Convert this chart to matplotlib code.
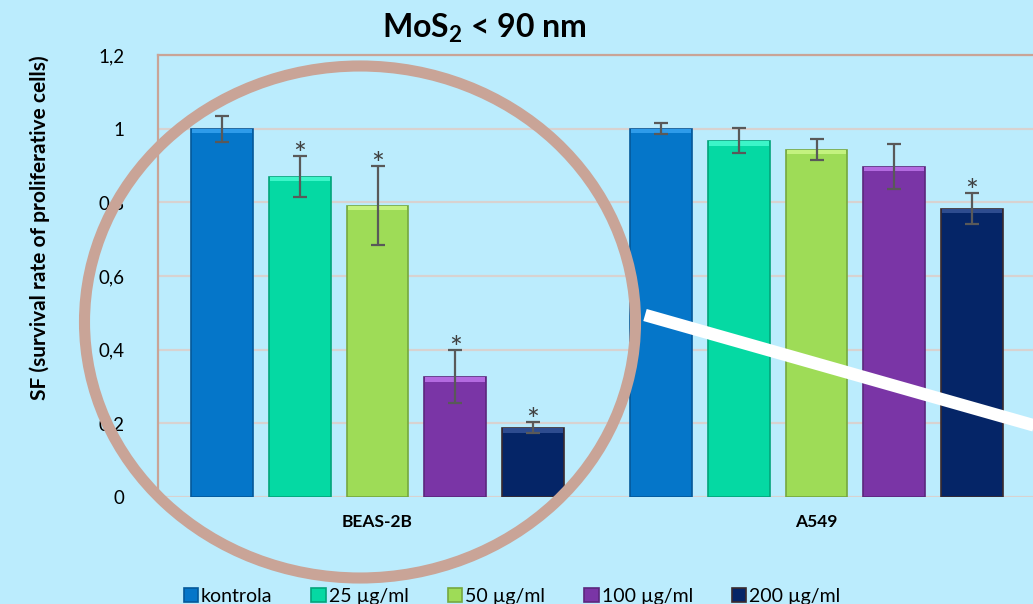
import matplotlib
matplotlib.use("Agg")
import matplotlib.pyplot as plt
from matplotlib.patches import Ellipse, Patch
from matplotlib.lines import Line2D
import numpy as np

plt.rcParams["font.family"] = ["Lato", "DejaVu Sans"]
plt.rcParams["mathtext.fontset"] = "custom"
plt.rcParams["mathtext.rm"] = "Lato"
plt.rcParams["mathtext.bf"] = "Lato:bold"

# ── Data ──────────────────────────────────────────────────────────────────────
cell_lines = ["BEAS-2B", "A549"]
doses = ["kontrola", "25 µg/ml", "50 µg/ml", "100 µg/ml", "200 µg/ml"]

beas_sf  = [1.000, 0.870, 0.791, 0.326, 0.188]
beas_err = [0.035, 0.055, 0.107, 0.072, 0.015]
beas_sig = [False, True, True, True, True]

a549_sf  = [1.000, 0.967, 0.943, 0.897, 0.783]
a549_err = [0.015, 0.034, 0.029, 0.062, 0.041]
a549_sig = [False, False, False, False, True]

yticks      = [0, 0.2, 0.4, 0.6, 0.8, 1.0, 1.2]
ytick_names = ["0", "0,2", "0,4", "0,6", "0,8", "1", "1,2"]

# ── Style ─────────────────────────────────────────────────────────────────────
BG     = "#BBECFD"
GRID   = "#D8D2D0"
FRAME  = "#C9A497"
faces  = ["#0576C9", "#05D9A3", "#9EDC57", "#7A35A6", "#052567"]
edges  = ["#04599A", "#03A57B", "#76A83F", "#5B277D", "#3A2A2E"]
tops   = ["#2E9BEA", "#3CF5C8", "#C4F27F", "#B36AE0", "#2E4C8F"]

fig = plt.figure(figsize=(10.33, 6.04), dpi=100, facecolor=BG)
ax = fig.add_axes([158 / 1033, 1 - 497 / 604, (1036 - 158) / 1033, (497 - 55) / 604])
ax.set_facecolor(BG)

step, width = 0.177, 0.141
groups = np.arange(len(cell_lines))
series = [(beas_sf, beas_err, beas_sig), (a549_sf, a549_err, a549_sig)]

for g, (vals, errs, sig) in zip(groups, series):
    for i, (v, e, s) in enumerate(zip(vals, errs, sig)):
        x = g + (i - 2) * step
        ax.bar(x, v, width, color=faces[i], edgecolor=edges[i], linewidth=1.2, zorder=3)
        # bevelled top edge
        ax.bar(x, 0.012, width * 0.96, bottom=v - 0.013, color=tops[i], linewidth=0, zorder=3.5)
        ax.errorbar(x, v, yerr=e, fmt="none", ecolor="#595959", elinewidth=1.6,
                    capsize=5, capthick=1.6, zorder=4)
        if s:
            ax.text(x, v + e - 0.035, "*", ha="center", va="bottom", fontsize=22,
                    color="#404040", zorder=5)

ax.set_xlim(-0.5, 1.5)
ax.set_ylim(0, 1.2)
ax.set_yticks(yticks)
ax.set_yticklabels(ytick_names, fontsize=13.5)
ax.set_xticks(groups)
ax.set_xticklabels(cell_lines, fontsize=12.5, fontweight="bold")
ax.tick_params(axis="y", length=0, pad=24)
ax.tick_params(axis="x", length=0, pad=12)
ax.grid(axis="y", color=GRID, linewidth=1.6, zorder=0)
ax.set_axisbelow(True)
for side in ["right", "bottom"]:
    ax.spines[side].set_visible(False)
ax.spines["left"].set_color(FRAME)
ax.spines["top"].set_color(FRAME)
ax.spines["left"].set_linewidth(1.6)
ax.spines["top"].set_linewidth(1.6)

ax.set_ylabel("SF (survival rate of proliferative cells)", fontsize=15, fontweight="bold")
ax.yaxis.set_label_coords(-108 / 878, 0.609)

fig.text(484 / 1033, 1 - 28 / 604, "MoS$_\\mathbf{2}$ < 90 nm", ha="center", va="center",
         fontsize=23, fontweight="bold")

handles = [Patch(facecolor=f, edgecolor=e, linewidth=1.2) for f, e in zip(faces, edges)]
fig.legend(handles, doses, loc="lower center", bbox_to_anchor=(512 / 1033, -0.03), ncol=5,
           frameon=False, fontsize=14, handlelength=0.75, handleheight=0.75,
           handletextpad=0.15, columnspacing=2.0)

# highlight ring round the BEAS-2B group and the pointer line
fig.patches.append(Ellipse((360 / 1033, 1 - 322 / 604), 551 / 1033, 512 / 604,
                           transform=fig.transFigure, fill=False,
                           edgecolor=FRAME, linewidth=8, zorder=10))
fig.lines.append(Line2D([645 / 1033, 1.02], [1 - 315 / 604, 1 - 431 / 604],
                        transform=fig.transFigure, color="white", linewidth=9,
                        solid_capstyle="butt", zorder=10))

fig.savefig("out.png", dpi=100, facecolor=BG)
